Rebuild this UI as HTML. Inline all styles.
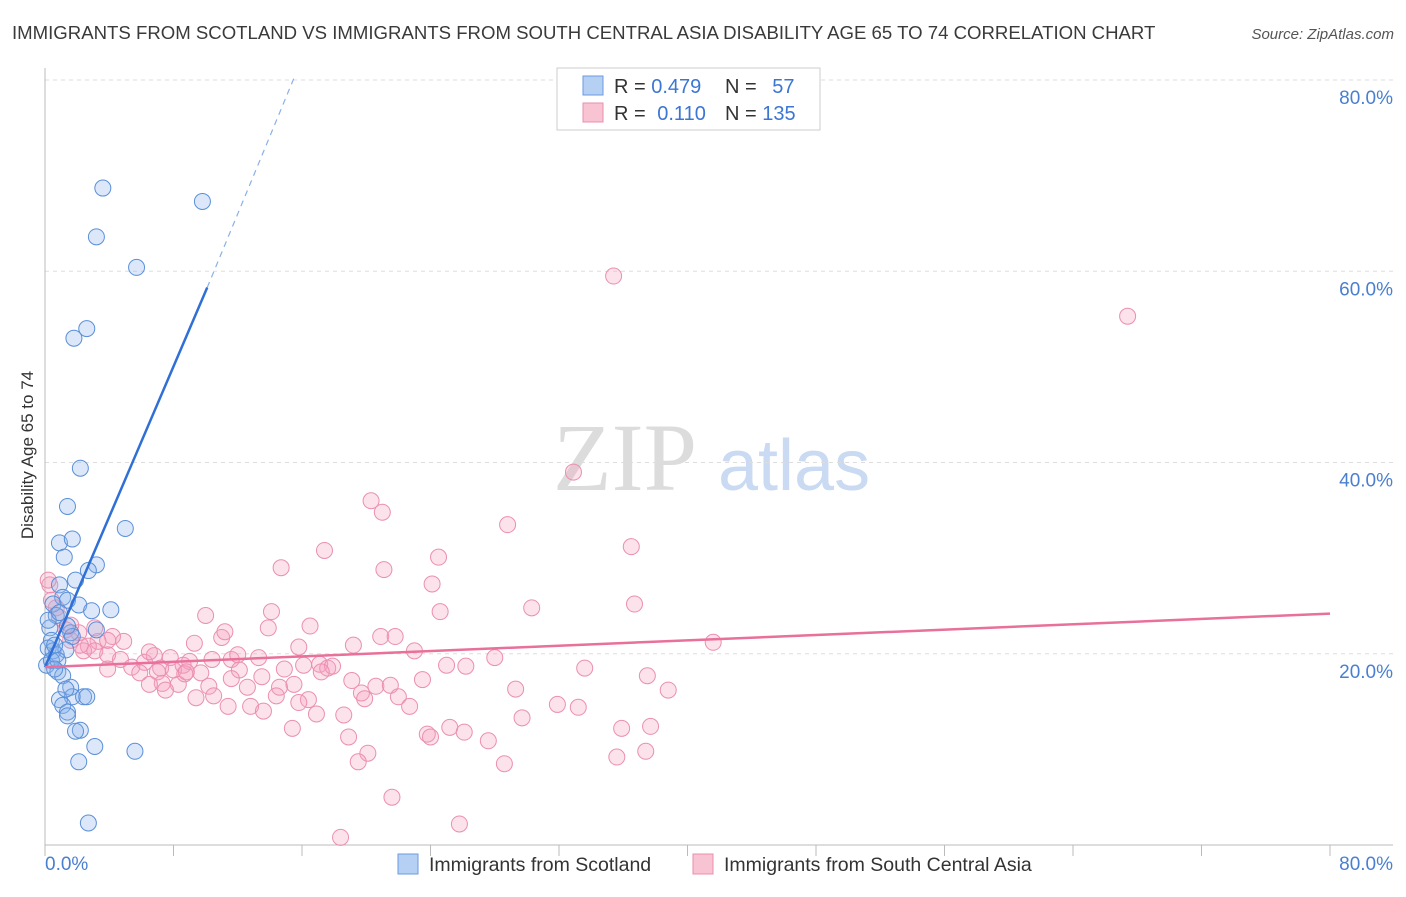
<!DOCTYPE html>
<html><head><meta charset="utf-8"><style>
body{margin:0;background:#fff;font-family:"Liberation Sans",sans-serif}
svg text{font-family:"Liberation Sans",sans-serif}
</style></head><body>
<svg id="c" width="1406" height="892" xmlns="http://www.w3.org/2000/svg">
<text x="12" y="39" font-size="18.6" fill="#3a3a3a">IMMIGRANTS FROM SCOTLAND VS IMMIGRANTS FROM SOUTH CENTRAL ASIA DISABILITY AGE 65 TO 74 CORRELATION CHART</text>
<text x="1394" y="39" font-size="15" fill="#555" font-style="italic" text-anchor="end">Source: ZipAtlas.com</text>
<g>
<text x="553" y="490" font-size="96" fill="#dcdcdc" style="font-family:'Liberation Serif',serif">ZIP</text>
<text x="718" y="490" font-size="72" fill="#c9daf2">atlas</text>
</g>
<g id="grid"></g><g id="axes"></g><g id="pts"></g><g id="trend"></g>
<text transform="translate(33,455) rotate(-90)" font-size="17" fill="#333" text-anchor="middle">Disability Age 65 to 74</text>
<g>
<rect x="557" y="68" width="263" height="62" fill="#fff" stroke="#ccc"/>
<rect x="583" y="76" width="20" height="19" fill="#b5d0f3" stroke="#6b9ae0"/>
<rect x="583" y="103" width="20" height="19" fill="#f8c3d3" stroke="#ea8fae"/>
<text x="614" y="93" font-size="20" fill="#333">R = <tspan fill="#3b76d4">0.479</tspan></text>
<text x="725" y="93" font-size="20" fill="#333">N = <tspan fill="#3b76d4" dx="10">57</tspan></text>
<text x="614" y="120" font-size="20" fill="#333">R = <tspan fill="#3b76d4" dx="6">0.110</tspan></text>
<text x="725" y="120" font-size="20" fill="#333">N = <tspan fill="#3b76d4">135</tspan></text>
</g>
<g>
<rect x="398" y="854" width="20" height="20" fill="#b5d0f3" stroke="#6b9ae0"/>
<text x="429" y="871" font-size="19.5" fill="#333">Immigrants from Scotland</text>
<rect x="693" y="854" width="20" height="20" fill="#f8c3d3" stroke="#ea8fae"/>
<text x="724" y="871" font-size="19.5" fill="#333">Immigrants from South Central Asia</text>
</g>
</svg>
<script>
const yTicks=[20,40,60,80];
const xTickLabels=["0.0%","80.0%"];
const blueX=[3.6,9.8,3.2,5.7,2.6,1.8,2.2,1.4,5.0,0.9,1.7,1.2,3.2,2.7,0.9,1.9,1.1,1.4,2.1,4.1,2.9,0.5,0.7,3.2,1.6,1.7,0.3,0.4,0.2,0.5,0.7,1.3,0.1,0.8,1.1,1.6,1.7,2.4,2.6,0.9,1.1,1.4,1.4,2.2,1.9,3.1,5.6,2.1,2.7,0.4,0.6,0.2,0.9,1.4,0.8,0.6,1.3];
const blueY=[68.7,67.3,63.6,60.4,54.0,53.0,39.4,35.4,33.1,31.6,32.0,30.1,29.3,28.7,27.2,27.7,25.9,25.6,25.1,24.6,24.5,25.2,24.0,22.5,22.2,21.8,22.7,21.4,20.6,20.3,19.9,20.4,18.8,18.1,17.7,16.5,15.5,15.5,15.5,15.2,14.6,13.9,13.5,12.0,11.9,10.3,9.8,8.7,2.3,19.3,20.9,23.5,24.3,22.9,19.3,18.4,16.3];
const pinkX=[35.4,67.4,32.9,20.3,21.0,28.8,17.4,24.5,36.5,14.7,21.1,24.1,36.7,30.3,24.6,14.1,13.9,10.0,16.5,11.0,11.2,20.9,21.8,19.2,15.8,23.0,41.6,4.9,4.2,3.3,2.7,2.1,1.3,1.6,0.9,0.7,0.4,0.3,0.2,2.4,3.1,3.9,4.7,3.9,5.4,6.2,6.8,6.5,7.2,7.8,8.6,9.0,8.0,7.0,5.9,8.3,7.3,8.7,9.7,10.2,9.4,10.5,11.6,12.0,12.1,13.3,13.5,12.6,11.6,12.8,13.6,14.6,15.5,14.9,16.1,17.1,17.6,17.9,17.2,19.1,20.6,21.5,19.7,19.9,22.0,22.7,23.5,25.0,26.2,28.0,33.6,37.5,38.8,29.3,31.9,33.2,29.7,25.2,26.1,23.8,24.0,27.6,28.6,35.9,37.7,35.6,37.4,18.6,18.9,20.1,19.5,21.6,18.4,25.8,15.4,16.4,16.9,3.9,3.1,2.2,1.6,9.3,10.4,8.8,6.5,7.5,11.4,14.4,15.8];
const pinkY=[59.5,55.3,39.0,36.0,34.8,33.5,30.8,30.1,31.2,29.0,28.8,27.3,25.2,24.8,24.4,24.4,22.7,24.0,22.9,21.7,22.3,21.8,21.8,20.9,20.7,20.3,21.2,21.3,21.8,21.3,20.8,22.2,22.5,23.0,23.8,24.8,25.6,27.2,27.7,20.3,20.3,19.9,19.4,18.4,18.6,19.1,19.8,20.2,18.5,19.6,18.8,19.2,18.3,18.1,18.0,16.8,16.9,17.9,18.0,16.6,15.4,15.6,19.4,19.9,18.3,19.6,17.6,16.5,17.4,14.5,14.0,16.5,16.8,18.4,18.8,18.9,18.5,18.7,18.1,17.2,16.6,16.7,15.9,15.3,15.5,14.5,17.3,18.8,18.7,19.6,18.5,17.7,16.2,16.3,14.7,14.4,13.3,12.3,11.8,11.6,11.3,10.9,8.5,12.2,12.4,9.2,9.8,13.6,11.3,9.6,8.7,5.0,0.8,2.2,12.2,15.2,13.7,21.4,22.7,20.9,21.4,21.1,19.4,18.1,16.8,16.2,14.5,15.6,14.9];
const blueTrend=[[0,18.6],[10.1,58.3]];
const blueDash=[[10.1,58.3],[15.5,80.2]];
const pinkTrend=[[0,18.6],[80,24.2]];
const NS="http://www.w3.org/2000/svg";
const X=v=>45+v*(1285/80), Y=v=>845-v*(765/80);
function mk(t,a,p){const e=document.createElementNS(NS,t);for(const k in a)e.setAttribute(k,a[k]);p.appendChild(e);return e;}
const grid=document.getElementById('grid'),axes=document.getElementById('axes'),pts=document.getElementById('pts'),tr=document.getElementById('trend');
yTicks.forEach(v=>{
 const l=mk('line',{x1:45,x2:1393,y1:Y(v),y2:Y(v),stroke:'#ddd','stroke-dasharray':'4,4'},grid);
 
 
 const t=mk('text',{x:1393,y:Y(v)+24,'font-size':19,fill:'#4a7fd0','text-anchor':'end'},grid);
 t.textContent=v.toFixed(1)+'%';
 
 
});
const ax=mk('line',{x1:45,x2:1393,y1:845,y2:845,stroke:'#bbb'},axes);


const ay=mk('line',{x1:45,x2:45,y1:68,y2:845,stroke:'#bbb'},axes);


for(let i=0;i<=10;i++){const tk=mk('line',{x1:X(i*8),x2:X(i*8),y1:845,y2:856,stroke:'#bbb'},axes);
 
 }
const xl0=mk('text',{x:45,y:870,'font-size':19,fill:'#4a7fd0'},axes);xl0.textContent=xTickLabels[0];


const xl1=mk('text',{x:1393,y:870,'font-size':19,fill:'#4a7fd0','text-anchor':'end'},axes);xl1.textContent=xTickLabels[1];


pinkX.forEach((v,i)=>{const c=mk('circle',{cx:X(v),cy:Y(pinkY[i]),r:8,fill:'rgba(244,160,188,0.3)',stroke:'#eb8fb0','stroke-width':1},pts);
 
 });
blueX.forEach((v,i)=>{const c=mk('circle',{cx:X(v),cy:Y(blueY[i]),r:8,fill:'rgba(140,180,235,0.3)',stroke:'#5a8fd8','stroke-width':1},pts);
 
 });
const b1=mk('line',{x1:X(blueTrend[0][0]),y1:Y(blueTrend[0][1]),x2:X(blueTrend[1][0]),y2:Y(blueTrend[1][1]),stroke:'#2f6fd6','stroke-width':2.5},tr);


const b2=mk('line',{x1:X(blueDash[0][0]),y1:Y(blueDash[0][1]),x2:X(blueDash[1][0]),y2:Y(blueDash[1][1]),stroke:'#8ab0e8','stroke-width':1.2,'stroke-dasharray':'6,5'},tr);


const p1=mk('line',{x1:X(pinkTrend[0][0]),y1:Y(pinkTrend[0][1]),x2:X(pinkTrend[1][0]),y2:Y(pinkTrend[1][1]),stroke:'#e8709a','stroke-width':2.5},tr);


</script>
</body></html>
